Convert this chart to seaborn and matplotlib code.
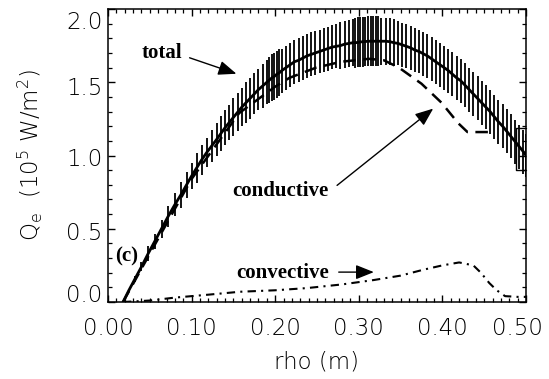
import numpy as np
import pandas as pd
import seaborn as sns
import matplotlib
matplotlib.use("Agg")
import matplotlib.pyplot as plt
from matplotlib.transforms import ScaledTranslation

# Total electron heat flux with its uncertainty
rho_total = [0.018, 0.025, 0.032, 0.040, 0.048, 0.056, 0.064, 0.072, 0.080, 0.087,
             0.094, 0.100, 0.106, 0.112, 0.118, 0.124, 0.130, 0.135, 0.140, 0.145,
             0.150, 0.155, 0.160, 0.165, 0.170, 0.175, 0.180, 0.185, 0.190, 0.193,
             0.196, 0.199, 0.202, 0.205, 0.208, 0.213, 0.218, 0.223, 0.228, 0.233,
             0.238, 0.243, 0.248, 0.253, 0.258, 0.263, 0.268, 0.273, 0.278, 0.283,
             0.288, 0.293, 0.296, 0.299, 0.302, 0.305, 0.308, 0.311, 0.314, 0.317,
             0.320, 0.323, 0.327, 0.332, 0.337, 0.342, 0.347, 0.352, 0.357, 0.362,
             0.367, 0.372, 0.377, 0.382, 0.387, 0.392, 0.397, 0.402, 0.407, 0.412,
             0.417, 0.422, 0.427, 0.432, 0.437, 0.442, 0.447, 0.452, 0.457, 0.462,
             0.467, 0.472, 0.477, 0.482, 0.487, 0.492, 0.497, 0.500]
q_total = [0.00, 0.08, 0.155, 0.24, 0.33, 0.415, 0.50, 0.585, 0.665, 0.73,
           0.80, 0.86, 0.915, 0.97, 1.02, 1.065, 1.11, 1.15, 1.19, 1.225,
           1.26, 1.295, 1.33, 1.36, 1.39, 1.42, 1.45, 1.475, 1.50, 1.515,
           1.53, 1.54, 1.555, 1.565, 1.58, 1.60, 1.62, 1.64, 1.65, 1.665,
           1.68, 1.69, 1.70, 1.71, 1.72, 1.73, 1.74, 1.745, 1.75, 1.76,
           1.765, 1.77, 1.77, 1.772, 1.775, 1.777, 1.778, 1.78, 1.78, 1.78,
           1.78, 1.78, 1.78, 1.78, 1.777, 1.77, 1.765, 1.755, 1.745, 1.735,
           1.72, 1.71, 1.695, 1.68, 1.66, 1.64, 1.62, 1.60, 1.58, 1.555,
           1.53, 1.51, 1.48, 1.45, 1.42, 1.39, 1.36, 1.33, 1.30, 1.265,
           1.23, 1.20, 1.165, 1.13, 1.095, 1.06, 1.025, 1.00]
q_total_err = [0.00, 0.01, 0.02, 0.03, 0.05, 0.05, 0.06, 0.07, 0.08, 0.09,
               0.09, 0.09, 0.10, 0.10, 0.10, 0.11, 0.11, 0.12, 0.12, 0.12,
               0.13, 0.13, 0.13, 0.14, 0.14, 0.14, 0.14, 0.15, 0.15, 0.16,
               0.16, 0.16, 0.16, 0.16, 0.15, 0.15, 0.15, 0.15, 0.15, 0.15,
               0.15, 0.15, 0.15, 0.15, 0.15, 0.15, 0.15, 0.15, 0.16, 0.16,
               0.16, 0.16, 0.17, 0.17, 0.17, 0.17, 0.17, 0.17, 0.17, 0.17,
               0.17, 0.17, 0.16, 0.16, 0.16, 0.16, 0.15, 0.15, 0.15, 0.15,
               0.15, 0.15, 0.15, 0.15, 0.15, 0.15, 0.15, 0.15, 0.15, 0.15,
               0.15, 0.15, 0.15, 0.15, 0.15, 0.15, 0.15, 0.15, 0.15, 0.15,
               0.15, 0.15, 0.15, 0.15, 0.15, 0.15, 0.15, 0.15]

# Conductive part
rho_cond = [0.018, 0.050, 0.100, 0.157, 0.200, 0.217, 0.249, 0.279, 0.312, 0.330,
            0.348, 0.375, 0.399, 0.419, 0.430, 0.455]
q_cond = [0.00, 0.33, 0.84, 1.29, 1.47, 1.53, 1.60, 1.64, 1.66, 1.65,
          1.60, 1.49, 1.36, 1.22, 1.16, 1.16]

# Small bracket at the edge of the conductive profile
edge_rho = [0.4995, 0.488, 0.488, 0.4995]
edge_q = [1.19, 1.19, 0.90, 0.90]

# Convective part
rho_conv = [0.018, 0.050, 0.080, 0.120, 0.158, 0.200, 0.238, 0.280, 0.318, 0.350,
            0.377, 0.400, 0.420, 0.437, 0.446, 0.456, 0.465, 0.475, 0.490, 0.500]
q_conv = [0.00, 0.01, 0.03, 0.05, 0.07, 0.08, 0.095, 0.12, 0.15, 0.18,
          0.22, 0.25, 0.27, 0.25, 0.20, 0.13, 0.08, 0.04, 0.035, 0.035]

x_ticks = [0.0, 0.1, 0.2, 0.3, 0.4, 0.5]
x_tick_labels = ["0.00", "0.10", "0.20", "0.30", "0.40", "0.50"]
y_ticks = [0.0, 0.5, 1.0, 1.5, 2.0]
y_tick_labels = ["0.0", "0.5", "1.0", "1.5", "2.0"]

sns.set_theme(style="ticks")
plt.rcParams["font.family"] = ["DejaVu Sans"]
plt.rcParams["font.weight"] = "light"
plt.rcParams["axes.labelweight"] = "light"

fig = plt.figure(figsize=(5.49, 3.79), dpi=100)
ax = fig.add_axes([108 / 549, 1 - 302 / 379, 418 / 549, 293 / 379])

df_total = pd.DataFrame({"rho": rho_total, "q": q_total, "err": q_total_err})
df_cond = pd.DataFrame({"rho": rho_cond, "q": q_cond})
df_conv = pd.DataFrame({"rho": rho_conv, "q": q_conv})

ax.errorbar(df_total["rho"], df_total["q"], yerr=df_total["err"], fmt="none",
            ecolor="black", elinewidth=1.3, capsize=0)
sns.lineplot(data=df_total, x="rho", y="q", ax=ax, color="black", lw=2.0,
             sort=False, estimator=None)
sns.lineplot(data=df_cond, x="rho", y="q", ax=ax, color="black", lw=1.8,
             linestyle=(0, (5, 3)), sort=False, estimator=None)
sns.lineplot(data=df_conv, x="rho", y="q", ax=ax, color="black", lw=1.5,
             linestyle=(0, (4, 2.5, 1, 2.5)), sort=False, estimator=None)
ax.plot(edge_rho, edge_q, color="black", lw=1.0, clip_on=False)

ax.set_xlim(0, 0.4976)
ax.set_ylim(0, 2.0)
ax.set_xticks(x_ticks)
ax.set_xticklabels(x_tick_labels)
ax.set_yticks(y_ticks)
ax.set_yticklabels(y_tick_labels)
ax.set_xticks(np.arange(0, 0.5, 0.01), minor=True)
ax.set_yticks(np.arange(0, 2.0, 0.1), minor=True)
ax.tick_params(which="both", direction="in", top=True, right=True,
               colors="black", labelsize=16.5)
ax.tick_params(which="major", length=5, width=1.0)
ax.tick_params(which="minor", length=3.2, width=0.9)
ax.tick_params(axis="x", which="major", pad=11)
ax.tick_params(axis="y", which="major", pad=4)
for s in ax.spines.values():
    s.set_linewidth(1.1)
    s.set_color("black")

ax.set_xlabel("rho (m)", fontsize=16.5, color="black", fontweight="light")
ax.set_ylabel(r"Q$_{\rm e}$  (10$^5$ W/m$^2$)", fontsize=16.5, color="black",
              fontweight="light")
ax.xaxis.set_label_coords(0.5, -0.165)
ax.yaxis.set_label_coords(-0.15, 0.5)

serif = dict(family="Liberation Serif", weight="bold", fontsize=15, color="black")
arrow = dict(arrowstyle="-|>,head_length=0.55,head_width=0.22", mutation_scale=20,
             color="black", lw=1.0, shrinkA=0, shrinkB=0)
ax.text(0.064, 1.70, "total", ha="center", va="center", **serif)
ax.annotate("", xy=(0.1536, 1.558), xytext=(0.0976, 1.667), arrowprops=arrow)
ax.text(0.206, 0.755, "conductive", ha="center", va="center", **serif)
ax.annotate("", xy=(0.389, 1.32), xytext=(0.274, 0.796), arrowprops=arrow)
ax.text(0.209, 0.201, "convective", ha="center", va="center", **serif)
ax.annotate("", xy=(0.318, 0.204), xytext=(0.276, 0.204), arrowprops=arrow)
ax.text(0.0226, 0.313, "(c)", ha="center", va="center", **serif)

# nudge the tick labels the way the axis text sits
y_shift = [9, -2, -2, -4, -11]
for lab, dy in zip(ax.get_yticklabels(), y_shift):
    lab.set_transform(lab.get_transform() + ScaledTranslation(0, dy / 100, fig.dpi_scale_trans))
xlabs = ax.get_xticklabels()
xlabs[-1].set_transform(xlabs[-1].get_transform() + ScaledTranslation(-9 / 100, 0, fig.dpi_scale_trans))

fig.savefig("out.png", dpi=100, facecolor="white")
